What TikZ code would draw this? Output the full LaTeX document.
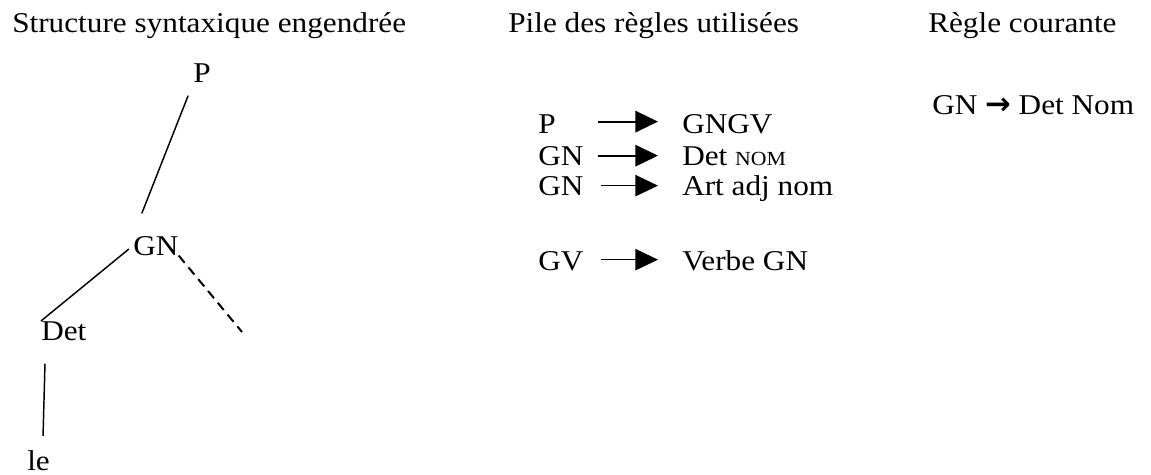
\documentclass[tikz,border=0pt]{standalone}
\usepackage{fontspec}
\setmainfont[FakeStretch=1.09]{Liberation Serif}
\newfontfamily\symfont{DejaVu Sans}
\usetikzlibrary{arrows.meta,calc}
\begin{document}
\begin{tikzpicture}[x=0.75pt,y=-0.75pt,
  lbl/.style={inner sep=0pt,anchor=base west,font=\fontsize{21.5}{24}\selectfont},
  lhs/.style={lbl,text width=44.5pt,align=left},
  edge/.style={line width=1.1pt,black},
  thickarrow/.style={line width=1.6pt,-{Triangle[length=17pt,width=16pt]}},
  thinarrow/.style={line width=1pt,-{Triangle[length=17pt,width=16pt]}}]
\useasboundingbox (0,0) rectangle (1151,474);
% headings
\node[lbl] (h1) at (12,33) {Structure syntaxique engendrée};
\node[lbl] (h2) at (508,33) {Pile des règles utilisées};
\node[lbl] (h3) at (928,33) {Règle courante};
% tree
\node[lbl] (P) at (193,83) {P};
\node[lbl] (GN) at (133,255) {GN};
\node[lbl] (Det) at (41,340) {Det};
\node[lbl] (le) at (27,470) {le};
\coordinate (open) at (242,332);
\draw[edge,shorten <=10pt,shorten >=18pt] (P.south west) -- (GN.north west);
\draw[edge,shorten <=4pt] (GN.west) -- (Det.north west);
\draw[edge,line width=1.5pt,dash pattern=on 7pt off 4.5pt] (GN.south east) -- (open);
\draw[edge] ($(Det.south west)+(4,23)$) -- ($(le.north)+(4.5,-14)$);
% rules stack
\node[lhs] (l1) at (538,133) {P};
\node[lbl] (r1) at (682,133) {GNGV};
\node[lhs] (l2) at (538,165) {GN};
\node[lbl] (r2) at (682,165) {Det {\fontsize{15}{18}\selectfont NOM}};
\node[lhs] (l3) at (538,195) {GN};
\node[lbl] (r3) at (682,195) {Art adj nom};
\node[lhs] (l4) at (538,270) {GV};
\node[lbl] (r4) at (682,270) {Verbe GN};
\draw[thickarrow,shorten >=18pt] ([yshift=1.5pt]l1.east) -- ([yshift=1.5pt]l1.east -| r1.west);
\draw[thickarrow,shorten >=18pt] (l2.east) -- (l2.east -| r2.west);
\draw[thinarrow,shorten <=2pt,shorten >=18pt] (l3.east) -- (l3.east -| r3.west);
\draw[thinarrow,shorten <=2pt,shorten >=18pt] ([yshift=0.8pt]l4.east) -- ([yshift=0.8pt]l4.east -| r4.west);
% current rule
\node[lbl] (cur) at (932,115) {GN {\symfont\bfseries\fontsize{23}{24}\selectfont →} Det Nom};
\end{tikzpicture}
\end{document}
